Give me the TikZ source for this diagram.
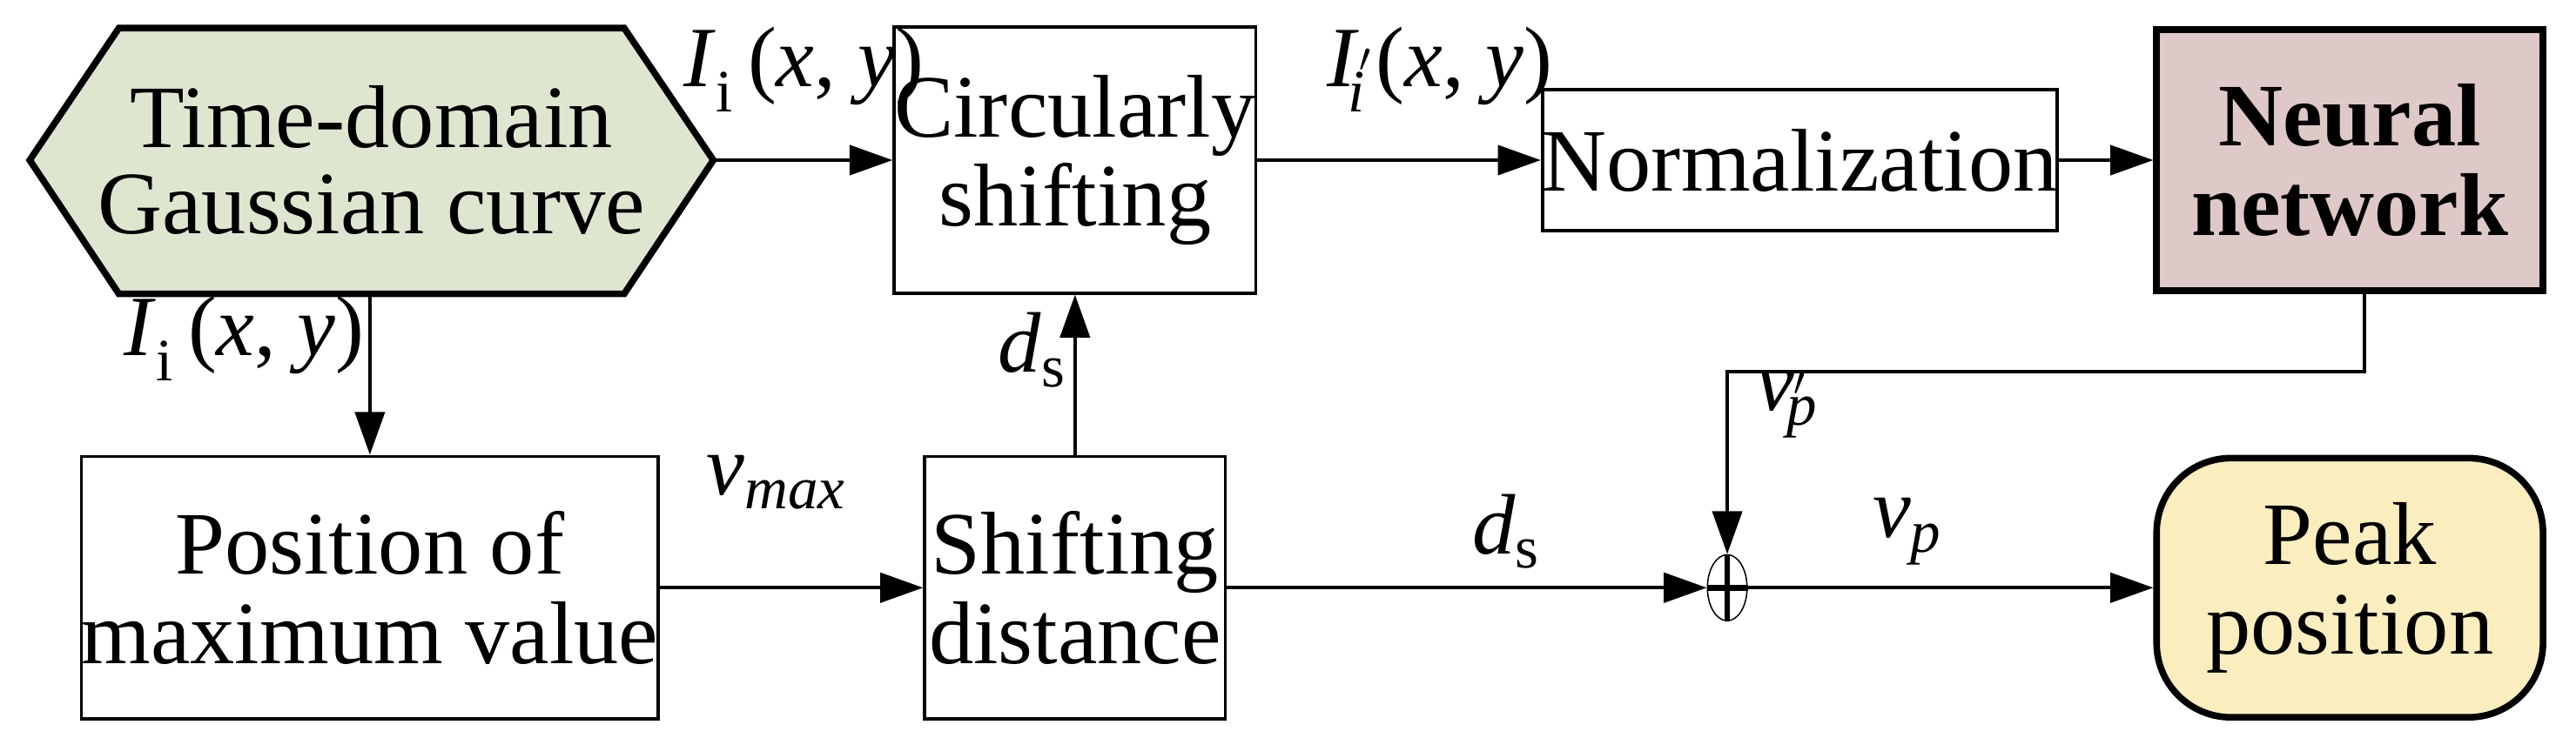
\documentclass[tikz,border=0pt]{standalone}
\usepackage{fontspec}
\setmainfont{Liberation Serif}
\usetikzlibrary{arrows.meta,shapes.geometric}
\newcommand{\mv}[1]{\textit{#1}}
\begin{document}
\begin{tikzpicture}[x=1pt,y=-1pt,
  box/.style={draw,line width=2pt,minimum width=#1,align=center,font=\fontsize{54}{60}\selectfont,inner sep=0pt},
  box/.default=182pt,
  arr/.style={line width=2pt,-{Triangle[length=26pt,width=18pt]}},
  lab/.style={font=\fontsize{52}{58}\selectfont}]
\useasboundingbox (0,0) rectangle (1560,451);
\coordinate (h1) at (18,97); \coordinate (h2) at (72,17); \coordinate (h3) at (378,17);
\coordinate (h4) at (432,97); \coordinate (h5) at (378,178); \coordinate (h6) at (72,178);
\draw[line width=4pt,fill={rgb,255:red,223;green,230;blue,208}] (h1)--(h2)--(h3)--(h4)--(h5)--(h6)--cycle;
\node[lab,align=center,font=\fontsize{54}{60}\selectfont] (tg) at (225,97) {Time-domain\\[-8pt]Gaussian curve};
\node[box,minimum height=161pt] (cs) at (651,97) {Circularly\\[-6pt]shifting};
\node[box=270pt,minimum height=85pt] (no) at (1090,97) {Normalization};
\node[box=234pt,minimum height=158pt,line width=4pt,fill={rgb,255:red,222;green,200;blue,200},font=\fontsize{54}{60}\selectfont\bfseries] (nn) at (1423,97) {Neural\\[-6pt]network};
\node[box=332pt,minimum height=159pt] (pm) at (224,356) {Position of\\[-6pt]maximum value};
\node[box,minimum height=159pt] (sd) at (651,356) {Shifting\\[-6pt]distance};
\node[draw,ellipse,minimum width=24pt,minimum height=40pt,inner sep=0pt,line width=0.8pt] (sum) at (1046,356) {};
\draw[line width=3.5pt] (sum.north)--(sum.south) (sum.west)--(sum.east);
\node[draw,line width=4pt,rounded corners=45pt,minimum width=234pt,minimum height=157pt,fill={rgb,255:red,250;green,237;blue,190},align=center,font=\fontsize{54}{60}\selectfont] (pp) at (1423,356) {Peak\\[-6pt]position};
\draw[arr] (h4)--(cs.west);
\draw[arr] (cs.east)--(no.west);
\draw[arr] (no.east)--(nn.west);
\coordinate (hb) at (224,178);
\draw[arr] (hb)--(pm.north);
\draw[arr] (pm.east)--(sd.west);
\draw[arr] (sd.north)--(cs.south);
\draw[arr] (sd.east)--(sum.west);
\draw[arr] (sum.east)--(pp.west);
\coordinate (c0) at (1432,176); \coordinate (c1) at (1432,225); \coordinate (c2) at (1046,225);
\draw[arr] (c0)--(c1)--(c2)--(sum.north);
\node[lab] at (487,42) {\mv{I}\textsubscript{i}\,(\mv{x}, \mv{y})};
\node[lab] at (148,205) {\mv{I}\textsubscript{i}\,(\mv{x}, \mv{y})};
\node[lab] at (625,212) {\mv{d}\textsubscript{s}};
\node[lab] at (470,292) {\mv{v}\textsubscript{\mv{max}}};
\node[lab] at (872,42) {\mv{I}$'$\hspace{-14pt}\textsubscript{\mv{i}}\hspace{6pt}(\mv{x}, \mv{y})};
\node[lab] at (1082,245) {\mv{v}$'$\hspace{-12pt}\textsubscript{\mv{p}}\hspace{4pt}};
\node[lab] at (912,322) {\mv{d}\textsubscript{s}};
\node[lab] at (1155,322) {\mv{v}\textsubscript{\mv{p}}};
\end{tikzpicture}
\end{document}
